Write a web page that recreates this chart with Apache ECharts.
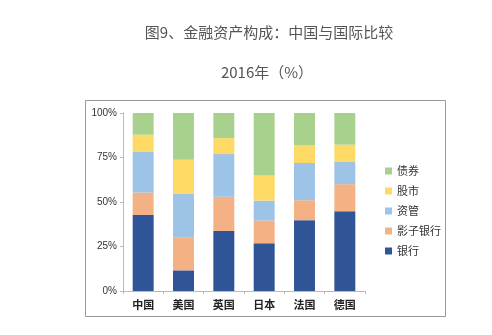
<!DOCTYPE html>
<html><head><meta charset="utf-8">
<script src="https://cdn.jsdelivr.net/npm/echarts@6/dist/echarts.min.js"></script>
<style>html,body{margin:0;padding:0;background:#fff}#c{width:492px;height:335px}</style>
</head><body><div id="c"></div>
<script>
var categories = ['中国','美国','英国','日本','法国','德国'];
var bank = [42.8, 11.6, 33.8, 26.8, 39.8, 44.8];
var shadowBank = [12.5, 18.6, 19.1, 12.8, 11.2, 15.2];
var assetMgmt = [23.1, 24.6, 24.0, 11.2, 20.9, 12.8];
var stocks = [9.4, 18.9, 9.0, 14.1, 9.9, 9.4];
var bonds = [12.2, 26.3, 14.1, 35.1, 18.2, 17.8];
var yTicks = ['0%','25%','50%','75%','100%'];

var chart = echarts.init(document.getElementById('c'), null, {renderer:'canvas'});
var font = '"Noto Sans CJK SC", "Microsoft YaHei", sans-serif';
function s(name, data, color){
  return {name:name, type:'bar', stack:'a', data:data, barWidth:'52%',
    itemStyle:{color:color}, emphasis:{disabled:true}};
}
chart.setOption({
  animation:false,
  title:[
    {text:'图9、金融资产构成：中国与国际比较', left:264, top:20, textAlign:'center',
     textStyle:{fontSize:15, fontWeight:'normal', color:'#555', fontFamily:font}},
    {text:'2016年（%）', left:262, top:60, textAlign:'center',
     textStyle:{fontSize:15, fontWeight:'normal', color:'#555', fontFamily:font}}
  ],
  graphic:[{type:'rect', shape:{x:85.5,y:100.5,width:360,height:216},
    style:{fill:'none', stroke:'#999', lineWidth:1}, silent:true}],
  grid:{left:123, right:127, top:113, bottom:44},
  legend:{orient:'vertical', left:380, top:159, itemGap:6, itemWidth:7, itemHeight:7,
    icon:'rect', textStyle:{fontSize:11, lineHeight:14, color:'#333', fontFamily:font},
    data:['债券','股市','资管','影子银行','银行']},
  xAxis:{type:'category', data:categories,
    axisLine:{lineStyle:{color:'#bbb'}},
    axisTick:{show:true, length:3, lineStyle:{color:'#bbb'}},
    axisLabel:{fontSize:11, color:'#222', fontWeight:'bold', margin:8, fontFamily:font}},
  yAxis:{type:'value', min:0, max:100, interval:25,
    axisLine:{show:true, lineStyle:{color:'#bbb'}},
    axisTick:{show:true, length:3, lineStyle:{color:'#bbb'}},
    splitLine:{show:false},
    axisLabel:{fontSize:10, color:'#333', margin:6, fontFamily:'Arial, Liberation Sans, sans-serif',
      formatter:function(v){return yTicks[Math.round(v/25)];}}},
  series:[
    s('银行', bank, '#2F5597'),
    s('影子银行', shadowBank, '#F4B183'),
    s('资管', assetMgmt, '#9DC3E6'),
    s('股市', stocks, '#FFD966'),
    s('债券', bonds, '#A9D18E')
  ]
});
</script></body></html>
